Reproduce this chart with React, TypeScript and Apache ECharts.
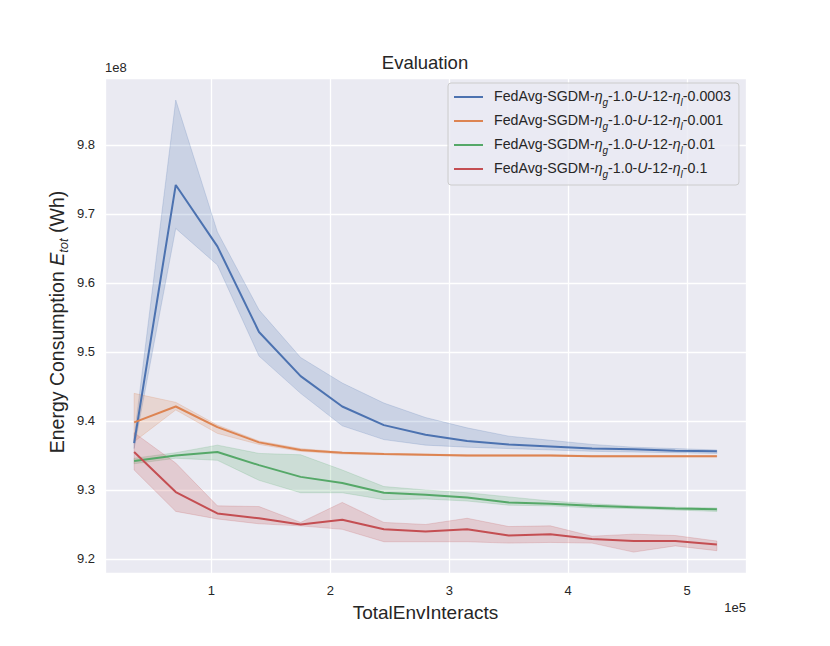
import React, { useEffect, useRef } from "react";
import * as echarts from "echarts";

// x values (TotalEnvInteracts)
const xValues = [35000, 70000, 105000, 140000, 175000, 210000, 245000, 280000, 315000, 350000, 385000, 420000, 455000, 490000, 525000];

// y values in units of 1e8 Wh
const blueMean = [9.368, 9.742, 9.653, 9.529, 9.465, 9.421, 9.394, 9.380, 9.371, 9.366, 9.363, 9.360, 9.359, 9.357, 9.356];
const blueLo = [9.360, 9.679, 9.626, 9.494, 9.440, 9.393, 9.373, 9.365, 9.362, 9.360, 9.358, 9.356, 9.355, 9.354, 9.353];
const blueHi = [9.376, 9.865, 9.674, 9.561, 9.492, 9.455, 9.426, 9.405, 9.390, 9.378, 9.372, 9.366, 9.362, 9.360, 9.358];

const orangeMean = [9.398, 9.421, 9.391, 9.369, 9.358, 9.354, 9.352, 9.351, 9.350, 9.350, 9.350, 9.349, 9.349, 9.349, 9.349];
const orangeLo = [9.370, 9.416, 9.382, 9.366, 9.356, 9.352, 9.351, 9.350, 9.349, 9.349, 9.349, 9.348, 9.348, 9.348, 9.348];
const orangeHi = [9.440, 9.427, 9.394, 9.371, 9.360, 9.355, 9.353, 9.352, 9.351, 9.351, 9.351, 9.350, 9.350, 9.350, 9.350];

const greenMean = [9.342, 9.350, 9.355, 9.336, 9.319, 9.310, 9.296, 9.293, 9.289, 9.282, 9.280, 9.277, 9.275, 9.273, 9.272];
const greenLo = [9.338, 9.346, 9.343, 9.314, 9.296, 9.296, 9.286, 9.287, 9.284, 9.278, 9.277, 9.274, 9.273, 9.271, 9.269];
const greenHi = [9.346, 9.354, 9.365, 9.353, 9.351, 9.329, 9.305, 9.300, 9.296, 9.290, 9.284, 9.280, 9.277, 9.275, 9.274];

const redMean = [9.355, 9.297, 9.266, 9.259, 9.250, 9.257, 9.243, 9.240, 9.243, 9.234, 9.236, 9.229, 9.226, 9.226, 9.221];
const redLo = [9.329, 9.269, 9.258, 9.251, 9.248, 9.243, 9.225, 9.225, 9.225, 9.223, 9.224, 9.223, 9.210, 9.219, 9.212];
const redHi = [9.383, 9.339, 9.277, 9.276, 9.253, 9.282, 9.253, 9.250, 9.259, 9.247, 9.248, 9.233, 9.236, 9.234, 9.226];

const seriesNames = [
  "FedAvg-SGDM-ηg-1.0-U-12-ηl-0.0003",
  "FedAvg-SGDM-ηg-1.0-U-12-ηl-0.001",
  "FedAvg-SGDM-ηg-1.0-U-12-ηl-0.01",
  "FedAvg-SGDM-ηg-1.0-U-12-ηl-0.1",
];
const lrLabels = ["0.0003", "0.001", "0.01", "0.1"];
const colors = ["#4c72b0", "#dd8452", "#55a868", "#c44e52"];

const FONT = "'Liberation Sans', Arial, Helvetica, sans-serif";
const TXT = "#262626";

export default function App() {
  const ref = useRef<HTMLDivElement>(null);
  useEffect(() => {
    if (!ref.current) return;
    const chart = echarts.init(ref.current, undefined, { renderer: "svg" });
    const means = [blueMean, orangeMean, greenMean, redMean];
    const los = [blueLo, orangeLo, greenLo, redLo];
    const his = [blueHi, orangeHi, greenHi, redHi];

    const bandSeries = means.map((_, s) => ({
      type: "custom",
      name: "band" + s,
      z: 1,
      silent: true,
      data: xValues.map((x, i) => [x, los[s][i], his[s][i]]),
      encode: { x: 0, y: [1, 2] },
      renderItem: (params: any, api: any) => {
        if (params.dataIndex !== 0) return { type: "group", children: [] };
        const pts: number[][] = [];
        for (let i = 0; i < xValues.length; i++) pts.push(api.coord([xValues[i], his[s][i]]));
        for (let i = xValues.length - 1; i >= 0; i--) pts.push(api.coord([xValues[i], los[s][i]]));
        return {
          type: "polygon",
          shape: { points: pts },
          style: { fill: colors[s], opacity: 0.2, stroke: colors[s], lineWidth: 1 },
        };
      },
    }));

    const lineSeries = means.map((m, s) => ({
      type: "line",
      name: seriesNames[s],
      z: 3,
      symbol: "none",
      data: xValues.map((x, i) => [x, m[i]]),
      lineStyle: { color: colors[s], width: 2 },
      itemStyle: { color: colors[s] },
    }));

    const LF = 14.2;
    const legendRich = {
      n: { fontFamily: FONT, fontSize: LF, color: TXT, lineHeight: 16, verticalAlign: "top" as const },
      i: { fontFamily: FONT, fontSize: LF, fontStyle: "italic", color: TXT, lineHeight: 16, verticalAlign: "top" as const },
      s: { fontFamily: FONT, fontSize: 10, fontStyle: "italic", color: TXT, lineHeight: 8, padding: [8, 0, 0, 0], verticalAlign: "top" as const },
    };

    chart.setOption({
      animation: false,
      backgroundColor: "#ffffff",
      grid: {
        left: 105,
        right: 84,
        top: 78,
        bottom: 73,
        show: true,
        backgroundColor: "#eaeaf2",
        borderWidth: 0,
      },
      title: {
        text: "Evaluation",
        left: 425,
        textAlign: "center",
        top: 53,
        padding: 0,
        textStyle: { fontFamily: FONT, fontSize: 18.5, fontWeight: "normal", color: TXT },
      },
      legend: {
        data: seriesNames,
        orient: "vertical",
        left: 448,
        top: 83,
        padding: [6, 8, 6, 6],
        icon: "rect",
        itemWidth: 29,
        itemHeight: 2,
        itemGap: 6,
        backgroundColor: "rgba(234,234,242,0.8)",
        borderColor: "#cccccc",
        borderWidth: 1,
        borderRadius: 3,
        formatter: (name: string) => {
          const idx = seriesNames.indexOf(name);
          return `{n|FedAvg-SGDM-}{i|η}{s|g}{n|-1.0-}{i|U}{n|-12-}{i|η}{s|l}{n|-${lrLabels[idx]}}`;
        },
        textStyle: { fontFamily: FONT, fontSize: LF, color: TXT, rich: legendRich, padding: [0, 0, 0, 6] },
      },
      xAxis: {
        type: "value",
        min: 10500,
        max: 549500,
        minInterval: 100000,
        maxInterval: 100000,
        axisLine: { show: false },
        axisTick: { show: false },
        splitLine: { show: true, lineStyle: { color: "#ffffff", width: 1.3 } },
        axisLabel: {
          showMinLabel: false,
          showMaxLabel: false,
          margin: 11,
          fontFamily: FONT,
          fontSize: 13,
          color: TXT,
          formatter: (v: number) => String(Math.round(v / 100000)),
        },
        name: "TotalEnvInteracts",
        nameLocation: "middle",
        nameGap: 30,
        nameTextStyle: { fontFamily: FONT, fontSize: 19, color: TXT },
      },
      yAxis: {
        type: "value",
        min: 9.1797,
        max: 9.897,
        minInterval: 0.1,
        maxInterval: 0.1,
        axisLine: { show: false },
        axisTick: { show: false },
        splitLine: { show: true, lineStyle: { color: "#ffffff", width: 1.3 } },
        axisLabel: {
          showMinLabel: false,
          showMaxLabel: false,
          margin: 10,
          fontFamily: FONT,
          fontSize: 13,
          color: TXT,
          formatter: (v: number) => v.toFixed(1),
        },
      },
      graphic: [
        {
          type: "text",
          left: 105,
          top: 61,
          style: { text: "1e8", fontFamily: FONT, fontSize: 13, fill: TXT },
        },
        {
          type: "text",
          right: 830 - 746,
          top: 601,
          style: { text: "1e5", fontFamily: FONT, fontSize: 13, fill: TXT },
        },
        {
          type: "text",
          x: 57,
          y: 322,
          rotation: Math.PI / 2,
          style: {
            text: "{n|Energy Consumption }{i|E}{s|tot}{n| (Wh)}",
            align: "center",
            verticalAlign: "middle",
            rich: {
              n: { fontFamily: FONT, fontSize: 19.5, fill: TXT, lineHeight: 21, verticalAlign: "top" },
              i: { fontFamily: FONT, fontSize: 19.5, fontStyle: "italic", fill: TXT, lineHeight: 21, verticalAlign: "top" },
              s: { fontFamily: FONT, fontSize: 13, fontStyle: "italic", fill: TXT, lineHeight: 14, padding: [10, 0, 0, 0], verticalAlign: "top" },
            },
          },
        },
      ],
      series: [...bandSeries, ...lineSeries],
    } as any);
    return () => chart.dispose();
  }, []);
  return <div ref={ref} style={{ width: 830, height: 646, position: "absolute", left: 0, top: 0 }} />;
}
